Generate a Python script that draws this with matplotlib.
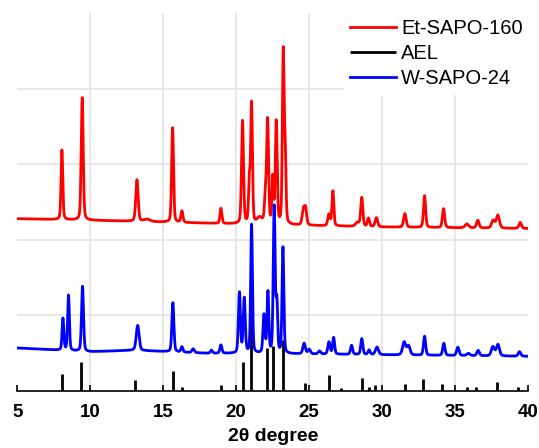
import numpy as np
import matplotlib
matplotlib.use("Agg")
import matplotlib.pyplot as plt

plt.rcParams['font.family'] = ['Liberation Sans', 'DejaVu Sans']

# peak lists (2theta, height above background, fwhm)
et_pos = [8.06, 9.45, 13.2, 13.9, 15.64, 16.28, 18.95, 20.43, 20.9, 21.05, 21.6,
          22.0, 22.15, 22.5, 22.74, 23.22, 23.35, 24.6, 24.75, 26.35, 26.62, 28.3,
          28.6, 29.06, 29.6, 31.55, 32.9, 34.2, 35.8, 36.55, 37.6, 37.92, 39.45]
et_height = [0.92, 1.62, 0.55, 0.03, 1.25, 0.15, 0.2, 1.36, 0.55, 1.58, 0.08,
             0.35, 1.35, 0.6, 1.35, 2.25, 0.9, 0.2, 0.2, 0.15, 0.46, 0.05,
             0.38, 0.11, 0.12, 0.18, 0.42, 0.25, 0.05, 0.1, 0.1, 0.17, 0.08]
et_fwhm = [0.14, 0.16, 0.19, 0.5, 0.15, 0.16, 0.15, 0.16, 0.13, 0.14, 0.4,
           0.16, 0.15, 0.13, 0.15, 0.14, 0.13, 0.2, 0.18, 0.18, 0.15, 0.3,
           0.17, 0.17, 0.2, 0.2, 0.17, 0.18, 0.3, 0.2, 0.25, 0.25, 0.2]
et_bg_x = [5, 12, 20, 30, 40]
et_bg_y = [2.28, 2.25, 2.21, 2.17, 2.15]

w_pos = [8.13, 8.51, 9.47, 13.25, 15.66, 16.28, 17.05, 18.3, 18.95, 20.22, 20.55,
         21.05, 21.9, 22.17, 22.6, 22.78, 23.2, 24.65, 25.0, 25.7, 26.35, 26.67,
         27.9, 28.6, 29.1, 29.64, 31.5, 31.8, 32.9, 34.22, 35.18, 35.9, 36.57,
         37.58, 37.92, 39.4]
w_height = [0.42, 0.73, 0.86, 0.33, 0.65, 0.07, 0.05, 0.04, 0.11, 0.8, 0.72,
            1.7, 0.5, 0.8, 1.93, 0.65, 1.4, 0.14, 0.06, 0.04, 0.16, 0.22,
            0.12, 0.21, 0.06, 0.1, 0.17, 0.12, 0.25, 0.16, 0.11, 0.03, 0.07,
            0.12, 0.15, 0.06]
w_fwhm = [0.14, 0.14, 0.16, 0.23, 0.16, 0.16, 0.2, 0.16, 0.16, 0.16, 0.16,
          0.14, 0.16, 0.14, 0.15, 0.13, 0.14, 0.2, 0.2, 0.2, 0.18, 0.16,
          0.17, 0.17, 0.17, 0.25, 0.25, 0.25, 0.17, 0.18, 0.2, 0.25, 0.2,
          0.25, 0.25, 0.2]
w_bg_x = [5, 10, 13, 18, 25, 40]
w_bg_y = [0.57, 0.52, 0.54, 0.50, 0.49, 0.46]

ael_pos = [8.06, 9.38, 13.08, 15.64, 16.28, 18.95, 20.43, 21.03, 22.1, 22.5,
           23.17, 24.73, 26.37, 27.2, 28.6, 29.06, 29.5, 31.58, 32.8, 34.1,
           35.8, 36.4, 37.85, 39.33]
ael_height = [0.22, 0.39, 0.15, 0.26, 0.06, 0.08, 0.39, 1.02, 0.57, 0.59,
              0.67, 0.11, 0.21, 0.04, 0.17, 0.05, 0.08, 0.10, 0.16, 0.10,
              0.05, 0.06, 0.12, 0.06]


def pattern(tt, pos, height, fwhm, bg_x, bg_y):
    y = np.interp(tt, bg_x, bg_y)
    for p, h, w in zip(pos, height, fwhm):
        g = np.exp(-4 * np.log(2) * ((tt - p) / w) ** 2)
        l = 1.0 / (1 + 4 * ((tt - p) / w) ** 2)
        y = y + h * (0.7 * g + 0.3 * l)
    return y


tt = np.arange(5, 40.001, 0.01)
et_y = pattern(tt, et_pos, et_height, et_fwhm, et_bg_x, et_bg_y)
w_y = pattern(tt, w_pos, w_height, w_fwhm, w_bg_x, w_bg_y)

fig = plt.figure(figsize=(5.39, 4.48), dpi=100)
ax = fig.add_axes([0.032, 0.127, 0.948, 0.844])

for v in range(10, 40, 5):
    ax.axvline(v, color='#e3e3e3', lw=1.2, zorder=0)
for v in range(1, 5):
    ax.axhline(v, color='#e3e3e3', lw=1.2, zorder=0)

ax.plot(tt, et_y, color='#ff0000', lw=2.0, label='Et-SAPO-160')
ax.vlines(ael_pos, 0, ael_height, color='black', lw=2, label='AEL')
ax.plot(tt, w_y, color='#0000ff', lw=2.0, label='W-SAPO-24')

ax.set_xlim(5, 40)
ax.set_ylim(0, 5)
ax.set_xticks(range(5, 41, 5))
ax.set_yticks([])
for s in ['left', 'right', 'top']:
    ax.spines[s].set_visible(False)
ax.spines['bottom'].set_linewidth(1.2)
ax.tick_params(axis='x', direction='in', length=4, width=1.2, labelsize=13.5, pad=9)
for t in ax.get_xticklabels():
    t.set_fontweight('bold')
ax.set_xlabel('2θ degree', fontsize=14, fontweight='bold', labelpad=5)

leg = ax.legend(loc='upper right', bbox_to_anchor=(1.021, 1.026), fontsize=14.5,
                frameon=True, fancybox=False, edgecolor='white', framealpha=1,
                handlelength=2.3, handletextpad=0.25, labelspacing=0.28,
                borderpad=0.3)
leg.set_zorder(5)

fig.savefig('out.png', dpi=100)
